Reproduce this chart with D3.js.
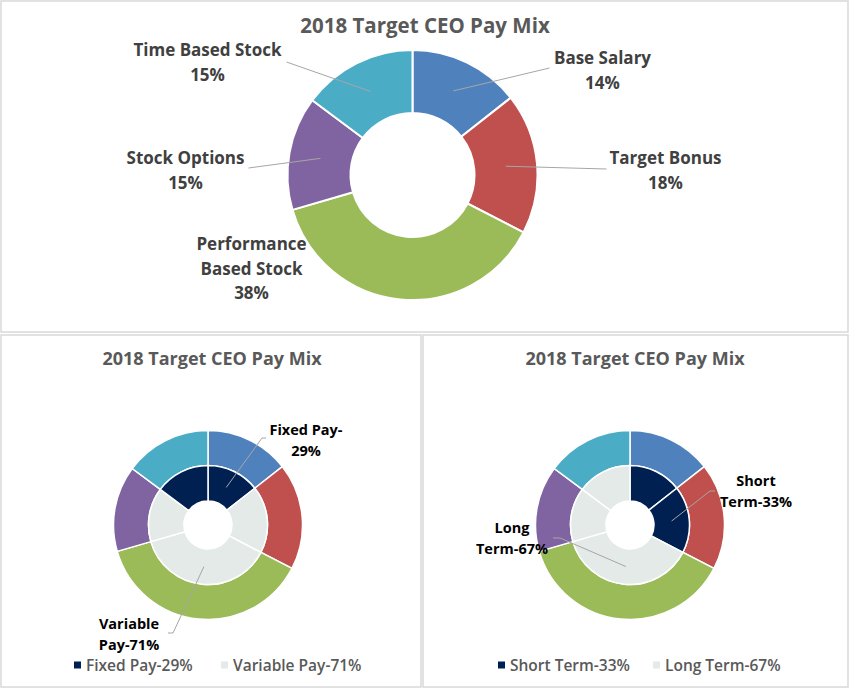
<!DOCTYPE html>
<html>
<head>
<meta charset="utf-8">
<script src="https://cdn.jsdelivr.net/npm/d3@7"></script>
<style>
  body { margin: 0; background: #fff; }
  svg { display: block; }
</style>
</head>
<body>
<div id="chart"></div>
<script>
// Data: pay mix components, clockwise from 12 o'clock
var categories = ["Base Salary", "Target Bonus", "Performance Based Stock", "Stock Options", "Time Based Stock"];
var values = [14.4, 18.2, 37.9, 14.7, 14.8];
var pctLabels = ["14%", "18%", "38%", "15%", "15%"];
var sliceColors = ["#4F81BD", "#C0504D", "#9BBB59", "#8064A2", "#4BACC6"];

// inner ring groupings
var payGroups = ["Fixed", "Variable", "Variable", "Variable", "Fixed"];
var payLegend = ["Fixed Pay-29%", "Variable Pay-71%"];
var termGroups = ["Short", "Short", "Long", "Long", "Long"];
var termLegend = ["Short Term-33%", "Long Term-67%"];

var title = "2018 Target CEO Pay Mix";
var navy = "#002052", light = "#E4EAE7";

var W = 850, H = 689;
var svg = d3.select("#chart").append("svg")
  .attr("width", W).attr("height", H);

// panel frames
var frames = [[1, 1, 847, 331], [1, 335, 420, 352], [423, 335, 425, 352]];
svg.selectAll("rect.frame").data(frames).enter().append("rect")
  .attr("x", d => d[0]).attr("y", d => d[1])
  .attr("width", d => d[2]).attr("height", d => d[3])
  .attr("fill", "none").attr("stroke", "#d9d9d9").attr("stroke-width", 1.5);

var pie = d3.pie().sort(null).value(d => d);
var slices = pie(values);

// ---------- top doughnut ----------
var gTop = svg.append("g").attr("transform", "translate(412.5,175)");
var arcTop = d3.arc().innerRadius(62).outerRadius(125);

gTop.selectAll("path").data(slices).enter().append("path")
  .attr("d", arcTop)
  .attr("fill", (d, i) => sliceColors[i])
  .attr("stroke", "#fff").attr("stroke-width", 2);

svg.append("text")
  .attr("x", 425).attr("y", 33)
  .attr("text-anchor", "middle")
  .style("font-family", "'Open Sans', sans-serif")
  .style("font-weight", "bold").style("font-size", "20.5px")
  .attr("fill", "#595959")
  .text(title);

// label placement (relative to chart centre): text position, leader end
var topLabels = [
  {i: 0, lines: ["Base Salary"], x: 190, y: -111, lead: [137, -107]},
  {i: 1, lines: ["Target Bonus"], x: 253, y: -11, lead: [194, -6]},
  {i: 2, lines: ["Performance", "Based Stock"], x: -161, y: 75, lead: null},
  {i: 3, lines: ["Stock Options"], x: -227, y: -11, lead: [-164, -7]},
  {i: 4, lines: ["Time Based Stock"], x: -205, y: -119, lead: [-126, -113]}
];

topLabels.forEach(function(l) {
  var c = arcTop.centroid(slices[l.i]);
  if (l.lead) {
    gTop.append("line")
      .attr("x1", c[0]).attr("y1", c[1])
      .attr("x2", l.lead[0]).attr("y2", l.lead[1])
      .attr("stroke", "#a6a6a6").attr("stroke-width", 1);
  }
  var t = gTop.append("text")
    .attr("text-anchor", "middle")
    .style("font-family", "'Open Sans', sans-serif")
    .style("font-weight", "bold").style("font-size", "17px")
    .attr("fill", "#404040");
  l.lines.concat([pctLabels[l.i]]).forEach(function(s, k) {
    t.append("tspan").attr("x", l.x).attr("y", l.y + k * 24.5).text(s);
  });
});

// ---------- bottom doughnuts ----------
var arcOuter = d3.arc().innerRadius(59.5).outerRadius(94.5);
var arcInner = d3.arc().innerRadius(24).outerRadius(59.5);
var groupColor = d3.scaleOrdinal().domain(["Fixed", "Variable"]).range([navy, light]);
var termColor = d3.scaleOrdinal().domain(["Short", "Long"]).range([navy, light]);

function doubleRing(cx, cy, panelX, groups, colorScale, labels, legend, legendX) {
  var g = svg.append("g").attr("transform", "translate(" + cx + "," + cy + ")");

  svg.append("text")
    .attr("x", panelX).attr("y", 365)
    .attr("text-anchor", "middle")
    .style("font-family", "'Open Sans', sans-serif")
    .style("font-weight", "bold").style("font-size", "18px")
    .attr("fill", "#595959")
    .text(title);

  g.selectAll("path.outer").data(slices).enter().append("path")
    .attr("class", "outer")
    .attr("d", arcOuter)
    .attr("fill", (d, i) => sliceColors[i])
    .attr("stroke", "#fff").attr("stroke-width", 1.5);

  g.selectAll("path.inner").data(slices).enter().append("path")
    .attr("class", "inner")
    .attr("d", arcInner)
    .attr("fill", (d, i) => colorScale(groups[i]))
    .attr("stroke", "#fff").attr("stroke-width", 1.5);

  labels.forEach(function(l) {
    var c = arcInner.centroid(slices[l.i]);
    g.append("path")
      .attr("d", d3.line()([c, l.elbow, l.end]))
      .attr("fill", "none").attr("stroke", "#a6a6a6").attr("stroke-width", 1);
    var t = g.append("text")
      .attr("text-anchor", "middle")
      .style("font-family", "'Open Sans', sans-serif")
      .style("font-weight", "bold").style("font-size", "14.5px")
      .attr("fill", "#000");
    l.lines.forEach(function(s, k) {
      t.append("tspan").attr("x", l.x).attr("y", l.y + k * 20.5).text(s);
    });
  });

  var leg = svg.append("g").attr("transform", "translate(" + legendX + ",665)");
  var items = leg.selectAll("g").data(legend).enter().append("g")
    .attr("transform", (d, k) => "translate(" + (k === 0 ? 0 : legend.offset) + ",0)");
  items.append("rect")
    .attr("x", 0).attr("y", -3.5).attr("width", 7).attr("height", 7)
    .attr("fill", (d, k) => k === 0 ? navy : light);
  items.append("text")
    .attr("x", 12).attr("y", 6)
    .style("font-family", "'Open Sans', sans-serif")
    .style("font-weight", "600").style("font-size", "15.5px")
    .attr("fill", "#595959")
    .text(d => d);
}

payLegend.offset = 147;
doubleRing(208, 525, 212, payGroups, groupColor, [
  {i: 0, lines: ["Fixed Pay-", "29%"], x: 98, y: -90, elbow: [54, -87], end: [58, -87]},
  {i: 2, lines: ["Variable", "Pay-71%"], x: -79, y: 104, elbow: [-35, 108], end: [-40, 108]}
], payLegend, 74);

termLegend.offset = 155;
doubleRing(630, 525, 635, termGroups, termColor, [
  {i: 1, lines: ["Short", "Term-33%"], x: 126, y: -39, elbow: [80, -34], end: [85, -34]},
  {i: 2, lines: ["Long", "Term-67%"], x: -118, y: 8, elbow: [-70, 13], end: [-77, 13]}
], termLegend, 498);
</script>
</body>
</html>
